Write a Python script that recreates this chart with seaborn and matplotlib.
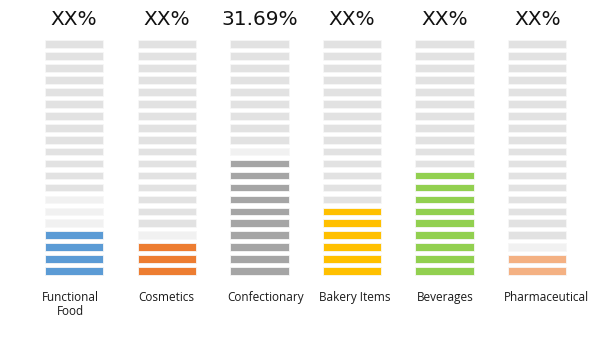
import matplotlib
matplotlib.use("Agg")
import matplotlib.pyplot as plt
import pandas as pd
import seaborn as sns

# Category data
categories = ["Functional\nFood", "Cosmetics", "Confectionary",
              "Bakery Items", "Beverages", "Pharmaceutical"]
headlines = ["XX%", "XX%", "31.69%", "XX%", "XX%", "XX%"]
filled_segments = [4, 3, 10, 6, 9, 2]
faded_segments = [3, 1, 1, 0, 0, 1]
n_segments = 20

# Styling
fill_colors = ["#5b9bd5", "#ed7d31", "#a5a5a5", "#ffc000", "#92d050", "#f4b183"]
empty_color = "#e2e2e2"
faded_color = "#f1f1f1"
label_dx = [-0.04, 0.0, 0.07, 0.03, 0.01, 0.1]

# One row per segment: category, level and which colour state it has
rows = []
for i, cat in enumerate(categories):
    for k in range(n_segments):
        if k < filled_segments[i]:
            state = f"fill{i}"
        elif k < filled_segments[i] + faded_segments[i]:
            state = "faded"
        else:
            state = "empty"
        rows.append({"category": cat, "level": k, "state": state, "height": 0.645})
segments = pd.DataFrame(rows)

palette = {f"fill{i}": c for i, c in enumerate(fill_colors)}
palette["faded"] = faded_color
palette["empty"] = empty_color

sns.set_theme(style="white")
fig = plt.figure(figsize=(6.16, 3.37), dpi=100)
ax = fig.add_axes([0, 0, 1, 1])

for k in range(n_segments):
    level = segments[segments["level"] == k]
    sns.barplot(data=level, x="category", y="height", hue="state",
                order=categories, palette=palette, dodge=False,
                width=0.63, bottom=k, errorbar=None, legend=False,
                saturation=1, edgecolor="#f7f7f7", linewidth=0.6, ax=ax)

ax.set_xlim(-0.80, 5.85)
ax.set_ylim(-5.19, 23.01)
ax.axis("off")

for i, (head, cat) in enumerate(zip(headlines, categories)):
    ax.text(i, 21.35, head, ha="center", va="center", fontsize=14.5,
            family="DejaVu Sans", color="#111111")
    ax.text(i + label_dx[i], -1.38, cat, ha="center", va="top", fontsize=8.5,
            family="Open Sans", color="#1a1a1a", linespacing=1.1)

fig.savefig("out.png", dpi=100, facecolor="white")
